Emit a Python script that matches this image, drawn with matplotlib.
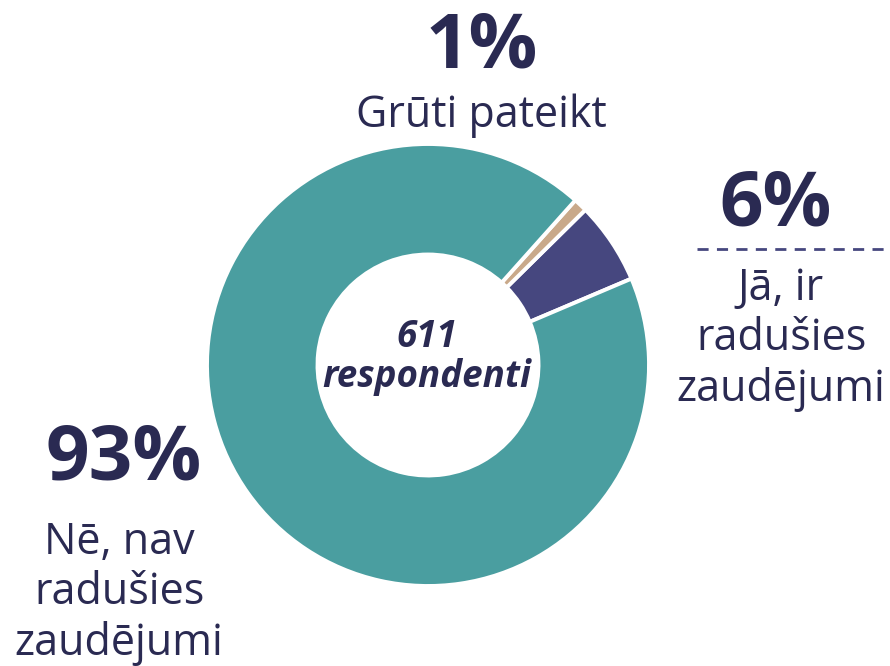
import matplotlib
matplotlib.use("Agg")
import matplotlib.pyplot as plt

categories = ["Jā, ir\nradušies\nzaudējumi", "Grūti pateikt", "Nē, nav\nradušies\nzaudējumi"]
values = [6, 1, 93]
pct_labels = ["6%", "1%", "93%"]
center_text = "611\nrespondenti"

colors = ["#46477F", "#C9A98A", "#4A9EA0"]
text_col = "#2A2A52"

W, H = 890, 666
fig = plt.figure(figsize=(W / 100, H / 100), dpi=100)
ax = fig.add_axes([0, 0, 1, 1])
ax.set_xlim(0, W)
ax.set_ylim(0, H)
ax.axis("off")

cx, cy, R = 428, H - 365, 221
ax.pie(values, colors=colors, startangle=23, counterclock=True, center=(cx, cy), radius=R,
       wedgeprops=dict(width=R * 0.5, edgecolor="white", linewidth=2.8))
ax.set_xlim(0, W)
ax.set_ylim(0, H)
ax.set_aspect("equal")

fam = ["Open Sans", "DejaVu Sans"]
ax.text(cx - 1, cy + 8, center_text, ha="center", va="center", fontsize=26.5, fontweight="bold",
        fontstyle="italic", color=text_col, family=fam, linespacing=1.1)

# 1% Grūti pateikt
ax.text(482, H - 48, pct_labels[1], ha="center", va="center", fontsize=55, fontweight="bold", color=text_col, family=fam)
ax.text(481, H - 116, categories[1], ha="center", va="center", fontsize=31, color=text_col, family=fam)

# 6%
ax.text(776, H - 206, pct_labels[0], ha="center", va="center", fontsize=55, fontweight="bold", color=text_col, family=fam)
ax.plot([697, 890], [H - 249, H - 249], color="#46477F", linestyle=(0, (4, 3)), linewidth=2)
ax.text(781, H - 339, categories[0], ha="center", va="center", fontsize=31, color=text_col, family=fam, linespacing=1.17)

# 93%
ax.text(124, H - 460, pct_labels[2], ha="center", va="center", fontsize=55, fontweight="bold", color=text_col, family=fam)
ax.text(119, H - 593, categories[2], ha="center", va="center", fontsize=31, color=text_col, family=fam, linespacing=1.17)

fig.savefig("out.png", dpi=100, facecolor="white")
